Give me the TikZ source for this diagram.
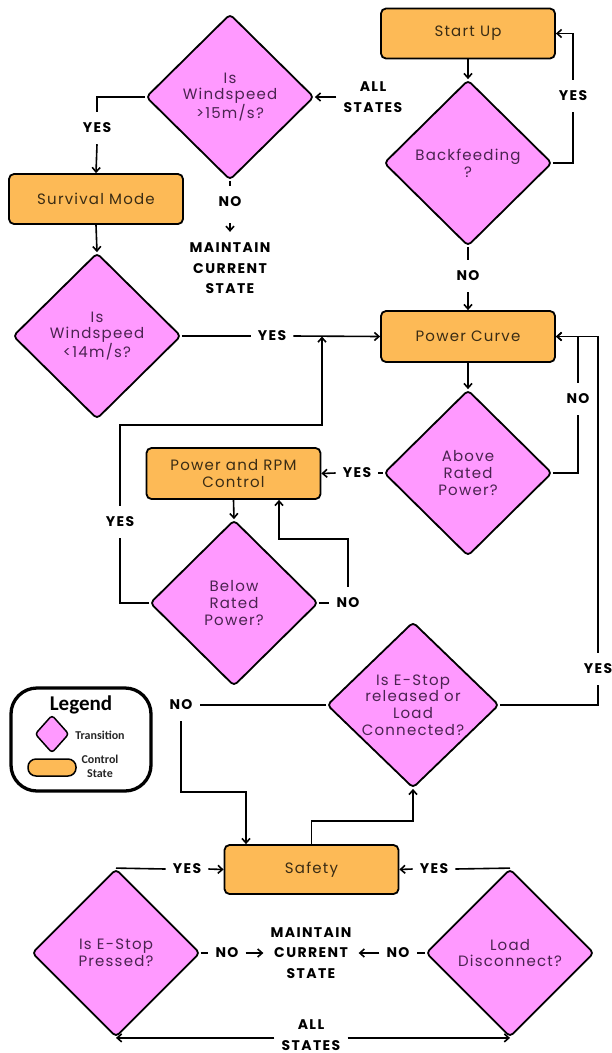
\documentclass[tikz,border=0pt]{standalone}
\usepackage{fontspec}
\setmainfont{Poppins}
\newfontfamily\nodefont[LetterSpace=8]{Poppins}
\newfontfamily\lblfont[LetterSpace=10]{Poppins}
\newfontfamily\legfont{Carlito}
\usetikzlibrary{shapes.geometric,arrows.meta}
\definecolor{pinkfill}{HTML}{FF99FF}
\definecolor{orangefill}{HTML}{FDBA56}
\definecolor{dtext}{HTML}{4A2350}
\definecolor{stext}{HTML}{3A2C14}
\begin{document}
\begin{tikzpicture}[x=1pt,y=-1pt,
 state/.style={rectangle, rounded corners=5pt, draw, line width=1.8pt, fill=orangefill, minimum width=174pt, minimum height=50pt, inner sep=2pt, align=center, text=stext, font=\nodefont\fontsize{15}{17}\selectfont},
 trans/.style={diamond, rounded corners=4pt, draw, line width=1.8pt, fill=pinkfill, minimum width=168pt, minimum height=166pt, inner sep=0pt, align=center, text=dtext, font=\nodefont\fontsize{15}{16.7}\selectfont},
 lbl/.style={font=\lblfont\bfseries\fontsize{14}{20.5}\selectfont, align=center, inner xsep=7pt, inner ysep=11pt},
 conn/.style={line width=1.6pt},
 arr/.style={conn, -{Straight Barb[length=4.5pt,width=8pt]}},
 legtxt/.style={font=\legfont\bfseries\fontsize{12}{13.5}\selectfont, text=black!85, align=center, inner sep=0pt}
]
\fill[white] (0,0) rectangle (612,1053);
\useasboundingbox (0,0) rectangle (612,1053);

% control states and transitions
\node[state] (su) at (468,33.5) {Start Up};
\node[trans] (bf) at (468,163) {Backfeeding\\?};
\node[state, minimum height=51pt] (pc) at (468,336.5) {Power Curve};
\node[trans] (ws15) at (230,97) {Is\\Windspeed\\>15m/s?};
\node[state] (sm) at (96,199) {Survival Mode};
\node[trans] (ws14) at (97,336) {Is\\Windspeed\\<14m/s?};
\node[trans] (ar) at (468,473) {Above\\Rated\\Power?};
\node[state, minimum height=51pt] (prc) at (233.5,473.5) {Power and RPM\\Control};
\node[trans] (br) at (234,603) {Below\\Rated\\Power?};
\node[trans, minimum width=172pt, inner sep=-10pt] (esr) at (413,705) {Is E-Stop\\released or\\Load\\Connected?};
\node[state, minimum height=49pt] (saf) at (311.5,869.5) {Safety};
\node[trans, minimum height=168pt] (esp) at (116,953) {Is E-Stop\\Pressed?};
\node[trans, minimum height=168pt] (ld) at (510,953) {Load\\Disconnect?};

% labels
\node[lbl] (as1) at (373,97) {ALL\\STATES};
\node[lbl] (y1) at (97,128) {YES};
\node[lbl] (n1) at (230,202) {NO};
\node[lbl] (m1) at (230,268.5) {MAINTAIN\\CURRENT\\STATE};
\node[lbl] (y2) at (573,96) {YES};
\node[lbl] (n2) at (468,276) {NO};
\node[lbl] (y3) at (272,336) {YES};
\node[lbl] (y4) at (357,473) {YES};
\node[lbl] (n3) at (578,399) {NO};
\node[lbl] (y5) at (120,522) {YES};
\node[lbl] (n4) at (348,603) {NO};
\node[lbl] (n5) at (181,705) {NO};
\node[lbl] (y6) at (598,669) {YES};
\node[lbl] (y7) at (187,869) {YES};
\node[lbl] (y8) at (434,869) {YES};
\node[lbl] (n6) at (227,953) {NO};
\node[lbl] (n7) at (398,953) {NO};
\node[lbl] (m2) at (311,953) {MAINTAIN\\CURRENT\\STATE};
\node[lbl] (as2) at (311,1035) {ALL\\STATES};

% connectors
\draw[arr] (su.south) -- (bf.north);
\draw[conn] (bf.east) -| (y2.south);
\draw[arr] (y2.north) |- (su.east);
\draw[conn] (bf.south) -- (n2.north);
\draw[arr] (n2.south) -- (pc.north);
\draw[arr] (as1.west) -- (ws15.east);
\draw[conn] (ws15.west) -| (y1.north);
\draw[arr] (y1.south) -- (sm.north);
\draw[conn] (ws15.south) -- (n1.north);
\draw[arr, shorten <=5pt] (n1.south) -- (m1.north);
\draw[arr] (sm.south) -- (ws14.north);
\draw[conn] (ws14.east) -- (y3.west);
\draw[arr] (y3.east) -- (pc.west);
\draw[arr] (pc.south) -- (ar.north);
\draw[conn] (ar.east) -| (n3.south);
\draw[arr] (n3.north) |- (pc.east);
\draw[conn] (esr.east) -| (y6.south);
\draw[arr] (y6.north) |- (pc.east);
\draw[conn] (ar.west) -- (y4.east);
\draw[arr] (y4.west) -- (prc.east);
\draw[arr] (prc.south) -- (br.north);
\draw[conn] (br.east) -- (n4.west);
\coordinate (k1) at (279,539);
\draw[arr] (n4.north) |- (k1) -- (k1 |- prc.south);
\draw[conn] (br.west) -| (y5.south);
\coordinate (k2) at (322,425);
\draw[arr] (y5.north) |- (k2) -- (k2 |- pc.west);
\draw[conn] (esr.west) -- (n5.east);
\coordinate (k3) at (246,792);
\draw[arr] (n5.south) |- (k3) -- (k3 |- saf.north);
\coordinate (k4) at (413,821);
\draw[arr] (saf.north) |- (k4) -- (esr.south);
\draw[conn] (esp.north) -- (y7.west);
\draw[arr] (y7.east) -- (saf.west);
\draw[conn] (ld.north) -- (y8.east);
\draw[arr] (y8.west) -- (saf.east);
\draw[conn] (esp.east) -- (n6.west);
\draw[arr] (n6.east) -- (m2.west);
\draw[conn] (ld.west) -- (n7.east);
\draw[arr] (n7.west) -- (m2.east);
\draw[arr] (as2.west |- esp.south) -- (esp.south);
\draw[arr] (as2.east |- ld.south) -- (ld.south);

% legend
\node[draw, line width=3.3pt, rounded corners=26pt, minimum width=140pt, minimum height=103pt] (leg) at (81,739.5) {};
\node[font=\legfont\bfseries\fontsize{21}{24}\selectfont, inner sep=0pt] (legt) at (81,705) {Legend};
\node[diamond, draw, line width=1.5pt, rounded corners=3pt, fill=pinkfill, minimum width=34pt, minimum height=38pt, inner sep=0pt] (legd) at (52,734) {};
\node[legtxt] (legdt) at (100,735) {Transition};
\node[rectangle, draw, line width=1.5pt, rounded corners=8pt, fill=orangefill, minimum width=48pt, minimum height=17pt] (legs) at (52,767.5) {};
\node[legtxt] (legst) at (100,766.5) {Control\\State};
\end{tikzpicture}
\end{document}
